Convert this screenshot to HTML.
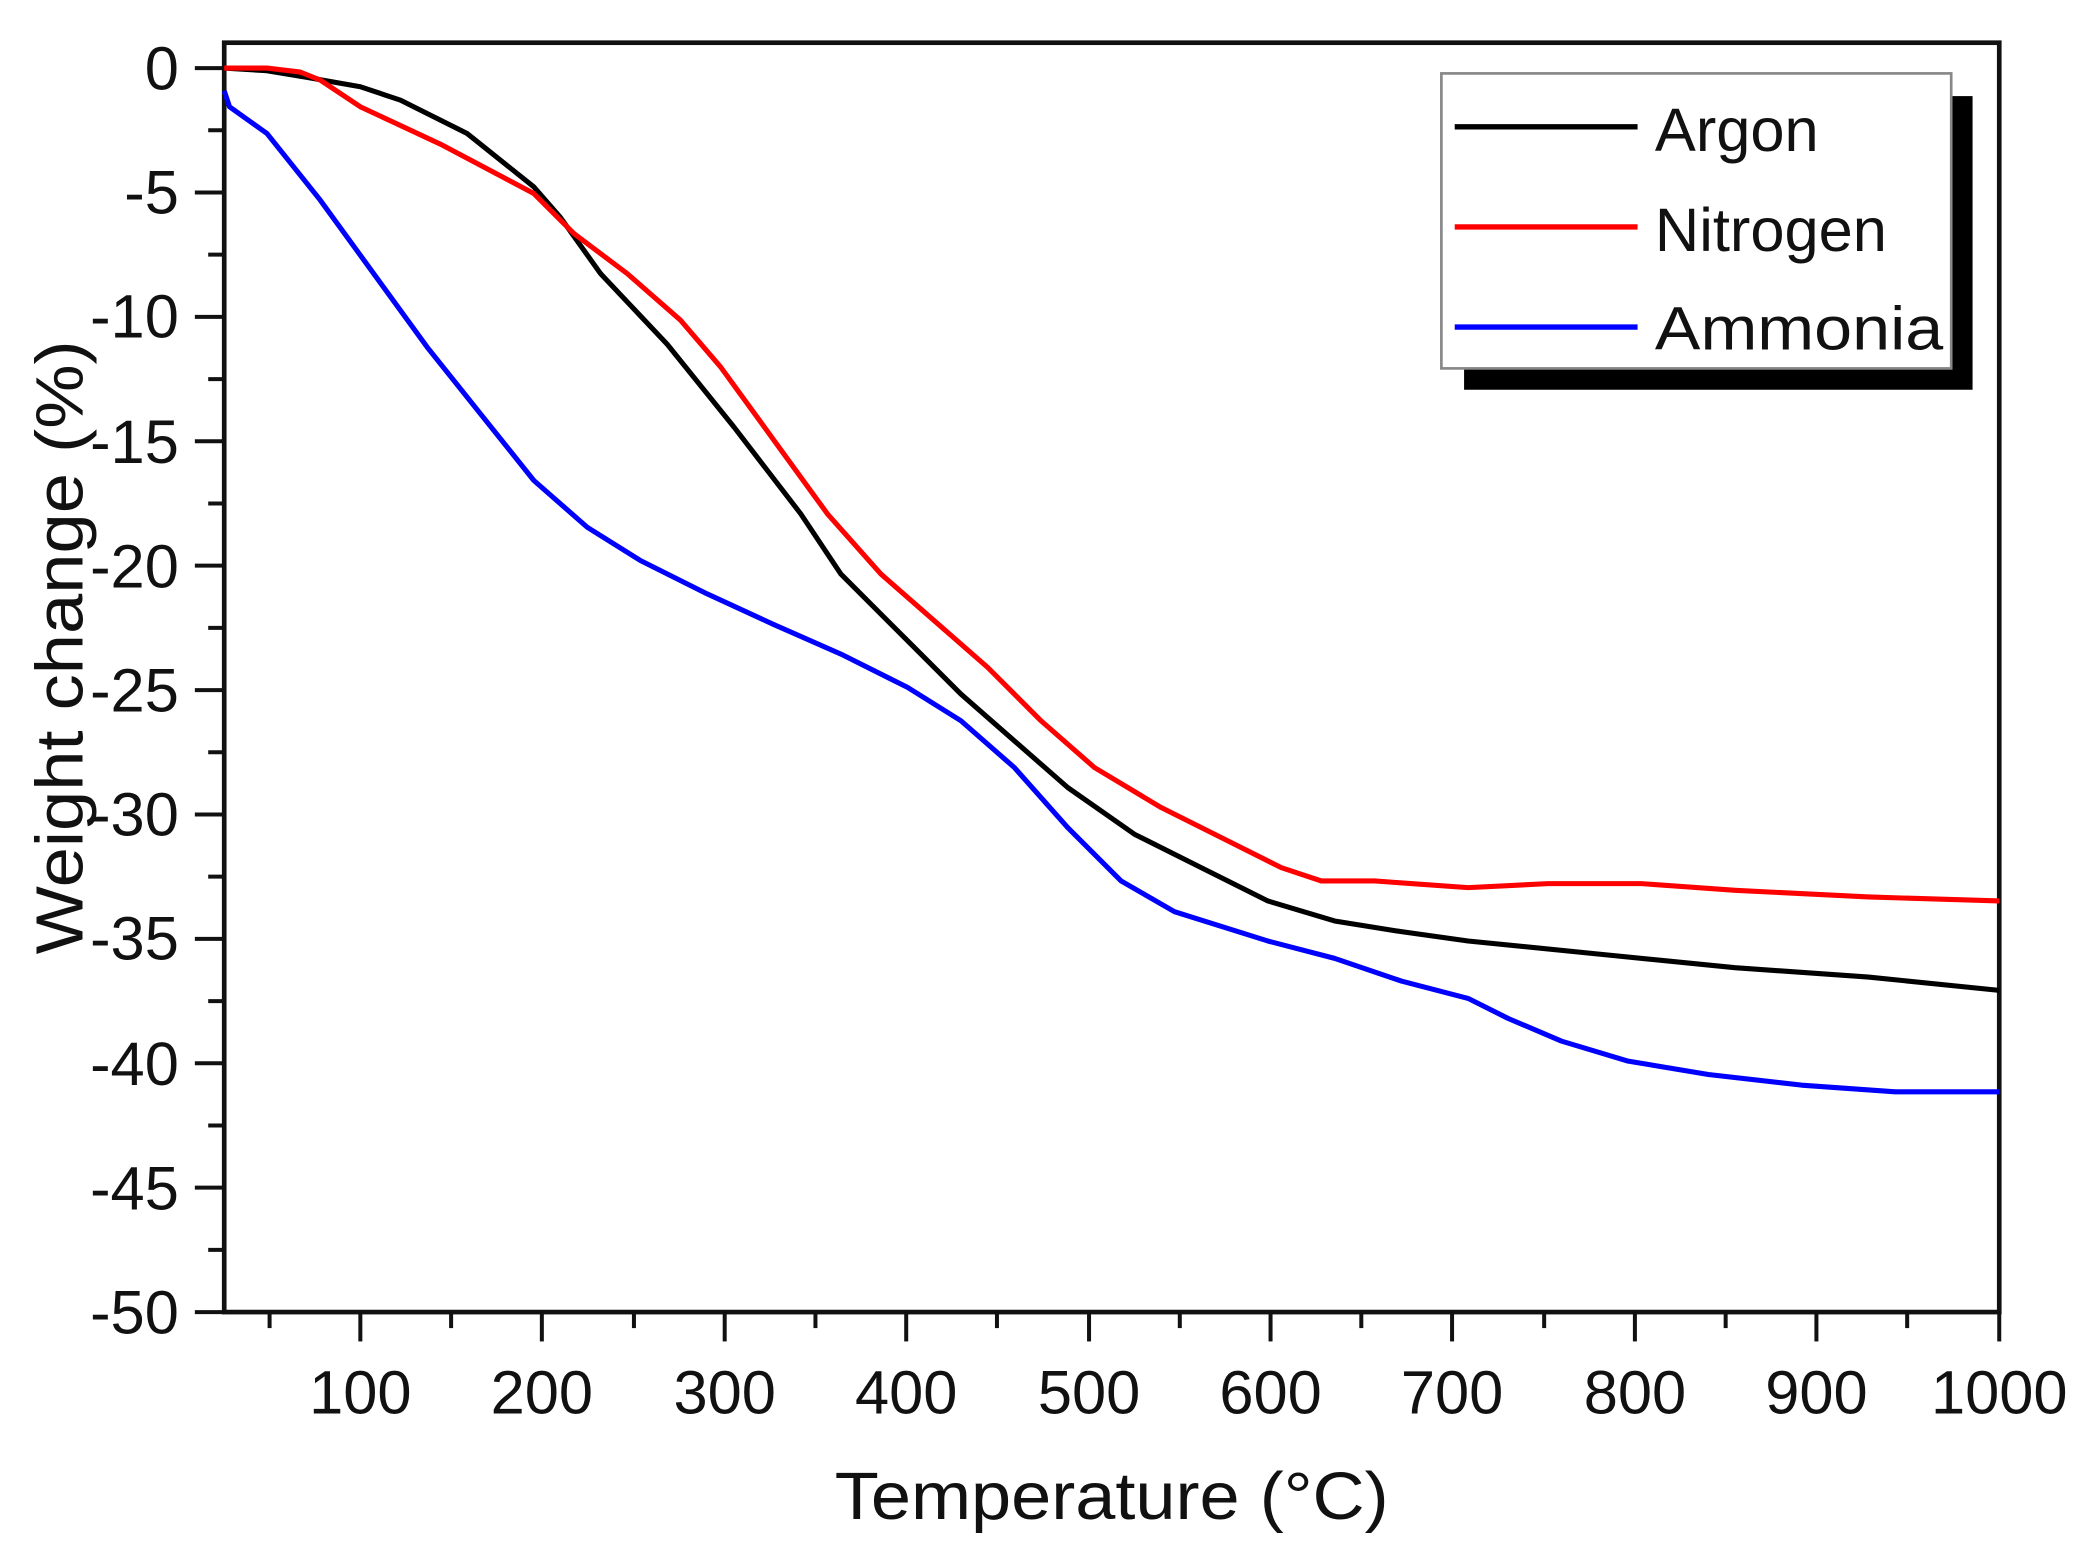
<!DOCTYPE html>
<html><head><style>html,body{margin:0;padding:0;background:#fff}svg{display:block}</style></head>
<body>
<svg width="2086" height="1551" viewBox="0 0 1563 1162" preserveAspectRatio="none" xmlns="http://www.w3.org/2000/svg" font-family="'Liberation Sans', sans-serif">
<rect width="1563" height="1162" fill="#fff"/>
<rect x="168" y="32" width="1330" height="951" fill="none" stroke="#111" stroke-width="3.5"/>
<g stroke="#111" stroke-width="3">
<line x1="146" y1="51" x2="168" y2="51"/><line x1="156" y1="97.6" x2="168" y2="97.6"/>
<line x1="146" y1="144.2" x2="168" y2="144.2"/><line x1="156" y1="190.8" x2="168" y2="190.8"/>
<line x1="146" y1="237.4" x2="168" y2="237.4"/><line x1="156" y1="284" x2="168" y2="284"/>
<line x1="146" y1="330.6" x2="168" y2="330.6"/><line x1="156" y1="377.2" x2="168" y2="377.2"/>
<line x1="146" y1="423.8" x2="168" y2="423.8"/><line x1="156" y1="470.4" x2="168" y2="470.4"/>
<line x1="146" y1="517" x2="168" y2="517"/><line x1="156" y1="563.6" x2="168" y2="563.6"/>
<line x1="146" y1="610.2" x2="168" y2="610.2"/><line x1="156" y1="656.8" x2="168" y2="656.8"/>
<line x1="146" y1="703.4" x2="168" y2="703.4"/><line x1="156" y1="750" x2="168" y2="750"/>
<line x1="146" y1="796.6" x2="168" y2="796.6"/><line x1="156" y1="843.2" x2="168" y2="843.2"/>
<line x1="146" y1="889.8" x2="168" y2="889.8"/><line x1="156" y1="936.4" x2="168" y2="936.4"/>
<line x1="146" y1="983" x2="168" y2="983"/>
<line x1="202" y1="983" x2="202" y2="995"/><line x1="270" y1="983" x2="270" y2="1005"/>
<line x1="338" y1="983" x2="338" y2="995"/><line x1="406" y1="983" x2="406" y2="1005"/>
<line x1="475" y1="983" x2="475" y2="995"/><line x1="543" y1="983" x2="543" y2="1005"/>
<line x1="611" y1="983" x2="611" y2="995"/><line x1="679" y1="983" x2="679" y2="1005"/>
<line x1="747" y1="983" x2="747" y2="995"/><line x1="816" y1="983" x2="816" y2="1005"/>
<line x1="884" y1="983" x2="884" y2="995"/><line x1="952" y1="983" x2="952" y2="1005"/>
<line x1="1020" y1="983" x2="1020" y2="995"/><line x1="1088" y1="983" x2="1088" y2="1005"/>
<line x1="1157" y1="983" x2="1157" y2="995"/><line x1="1225" y1="983" x2="1225" y2="1005"/>
<line x1="1293" y1="983" x2="1293" y2="995"/><line x1="1361" y1="983" x2="1361" y2="1005"/>
<line x1="1429" y1="983" x2="1429" y2="995"/><line x1="1498" y1="983" x2="1498" y2="1005"/>
</g>
<g font-size="46" fill="#111" text-anchor="end">
<text x="134" y="67">0</text><text x="134" y="160">-5</text><text x="134" y="253">-10</text>
<text x="134" y="347">-15</text><text x="134" y="440">-20</text><text x="134" y="533">-25</text>
<text x="134" y="626">-30</text><text x="134" y="719">-35</text><text x="134" y="813">-40</text>
<text x="134" y="906">-45</text><text x="134" y="999">-50</text>
</g>
<g font-size="46" fill="#111" text-anchor="middle">
<text x="270" y="1059">100</text><text x="406" y="1059">200</text><text x="543" y="1059">300</text>
<text x="679" y="1059">400</text><text x="816" y="1059">500</text><text x="952" y="1059">600</text>
<text x="1088" y="1059">700</text><text x="1225" y="1059">800</text><text x="1361" y="1059">900</text>
<text x="1498" y="1059">1000</text>
</g>
<text x="833" y="1138" font-size="50" text-anchor="middle" fill="#111" textLength="415" lengthAdjust="spacingAndGlyphs">Temperature (°C)</text>
<text transform="translate(62,485) rotate(-90)" font-size="50" text-anchor="middle" fill="#111" textLength="460" lengthAdjust="spacingAndGlyphs">Weight change (%)</text>
<g fill="none" stroke-width="3.8" stroke-linejoin="round">
<polyline stroke="#000" points="168,51 200,53 230,58 270,65 300,75 350,100 400,140 420,163 450,205 500,258 550,320 600,385 630,430 680,480 720,520 760,555 800,590 850,625 900,650 950,675 1000,690 1050,698 1100,705 1200,715 1300,725 1400,732 1498,742"/>
<polyline stroke="#f00" points="168,51 200,51 225,54 240,60 270,80 330,108 400,145 430,175 470,205 510,240 540,275 580,330 620,385 660,430 700,465 740,500 780,540 820,575 870,605 920,630 960,650 990,660 1030,660 1100,665 1160,662 1230,662 1300,667 1400,672 1498,675"/>
<polyline stroke="#00f" points="168,68 172,80 200,100 240,150 280,205 320,260 360,310 400,360 440,395 480,420 530,445 580,468 630,490 680,515 720,540 760,575 800,620 840,660 880,683 950,705 1000,718 1050,735 1100,748 1130,763 1170,780 1220,795 1280,805 1350,813 1420,818 1498,818"/>
</g>
<rect x="1097" y="72" width="381" height="220" fill="#000"/>
<rect x="1080" y="55" width="382" height="221" fill="#fff" stroke="#888" stroke-width="2"/>
<g stroke-width="4">
<line x1="1090" y1="95" x2="1227" y2="95" stroke="#000"/>
<line x1="1090" y1="170" x2="1227" y2="170" stroke="#f00"/>
<line x1="1090" y1="245" x2="1227" y2="245" stroke="#00f"/>
</g>
<g font-size="46" fill="#111">
<text x="1240" y="113">Argon</text>
<text x="1240" y="188">Nitrogen</text>
<text x="1240" y="262" textLength="216" lengthAdjust="spacingAndGlyphs">Ammonia</text>
</g>
</svg>
</body></html>
